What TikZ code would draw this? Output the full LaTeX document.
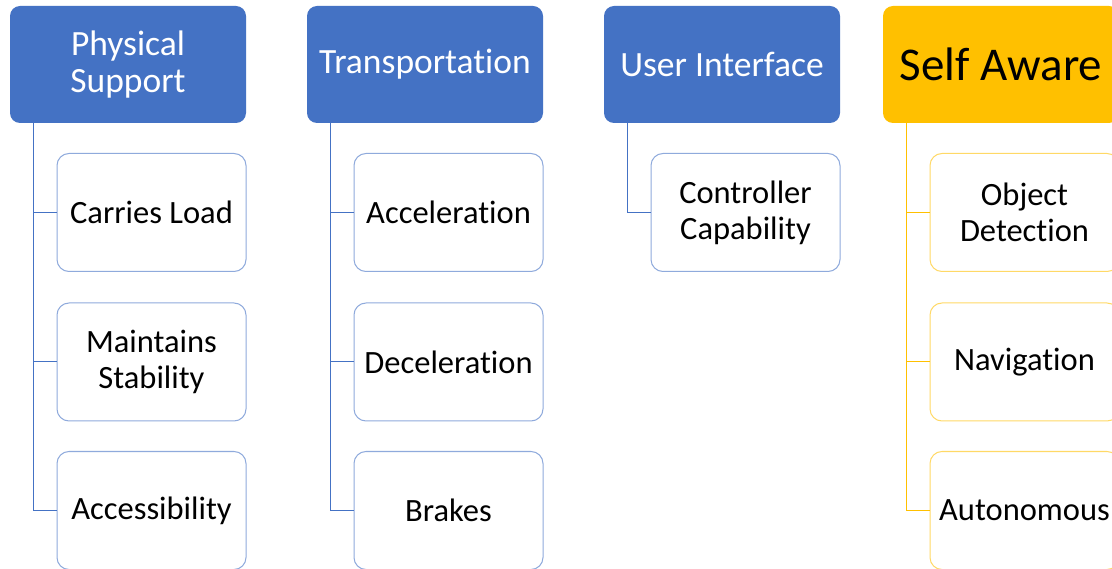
\documentclass[tikz,border=0pt]{standalone}
\usepackage{fontspec}
\setmainfont{Carlito}[Ligatures={NoCommon,NoContextual}, WordSpace={1,0,0}]
\definecolor{hblue}{HTML}{4472C4}
\definecolor{cblue}{HTML}{8FAADC}
\definecolor{lblue}{HTML}{4472C4}
\definecolor{hyel}{HTML}{FFC000}
\definecolor{cyel}{HTML}{FFD966}
\definecolor{lyel}{HTML}{FFC000}
\tikzset{
  hdr/.style={rounded corners=10pt, minimum width=236pt, minimum height=117pt, inner sep=0pt, align=center,
    font=\fontsize{35.5}{37}\selectfont},
  hdrblue/.style={hdr, fill=hblue, text=white},
  hdryel/.style={hdr, fill=hyel, text=black, font=\fontsize{47}{50}\selectfont},
  child/.style={rounded corners=12pt, minimum width=189pt, minimum height=118pt, inner sep=0pt, align=center,
    fill=white, line width=1pt, font=\fontsize{32.5}{36}\selectfont, text=black},
  childblue/.style={child, draw=cblue},
  childyel/.style={child, draw=cyel},
  linkblue/.style={draw=lblue, line width=1pt},
  linkyel/.style={draw=lyel, line width=1pt},
}
\begin{document}
\begin{tikzpicture}[x=1pt,y=-1pt]
\useasboundingbox (0,0) rectangle (1112,569);
\clip (0,0) rectangle (1112,569);
\fill[white] (0,0) rectangle (1112,569);
% headers
\node[hdrblue] (h1) at (128,64.5) {Physical\\Support};
\node[hdrblue] (h2) at (425,64.5) {Transportation};
\node[hdrblue] (h3) at (722,64.5) {User Interface};
\node[hdryel]  (h4) at (1001,64.5) {Self Aware};
% trunk coordinates
\coordinate (t1) at (33,123);
\coordinate (t2) at (330,123);
\coordinate (t3) at (627,123);
\coordinate (t4) at (906,123);
% children
\node[childblue] (c11) at (151.5,212.5) {Carries Load};
\node[childblue] (c12) at (151.5,362) {Maintains\\Stability};
\node[childblue] (c13) at (151.5,510.5) {Accessibility};
\node[childblue] (c21) at (448.5,212.5) {Acceleration};
\node[childblue] (c22) at (448.5,362) {Deceleration};
\node[childblue] (c23) at (448.5,510.5) {Brakes};
\node[childblue] (c31) at (745.5,212.5) {Controller\\Capability};
\node[childyel] (c41) at (1024.5,212.5) {Object\\Detection};
\node[childyel] (c42) at (1024.5,362) {Navigation};
\node[childyel] (c43) at (1024.5,510.5) {Autonomous};
% links
\draw[linkblue] (t1) |- (c13.west);
\draw[linkblue] (t1) |- (c12.west);
\draw[linkblue] (t1) |- (c11.west);
\draw[linkblue] (t2) |- (c23.west);
\draw[linkblue] (t2) |- (c22.west);
\draw[linkblue] (t2) |- (c21.west);
\draw[linkblue] (t3) |- (c31.west);
\draw[linkyel] (t4) |- (c43.west);
\draw[linkyel] (t4) |- (c42.west);
\draw[linkyel] (t4) |- (c41.west);
\end{tikzpicture}
\end{document}
